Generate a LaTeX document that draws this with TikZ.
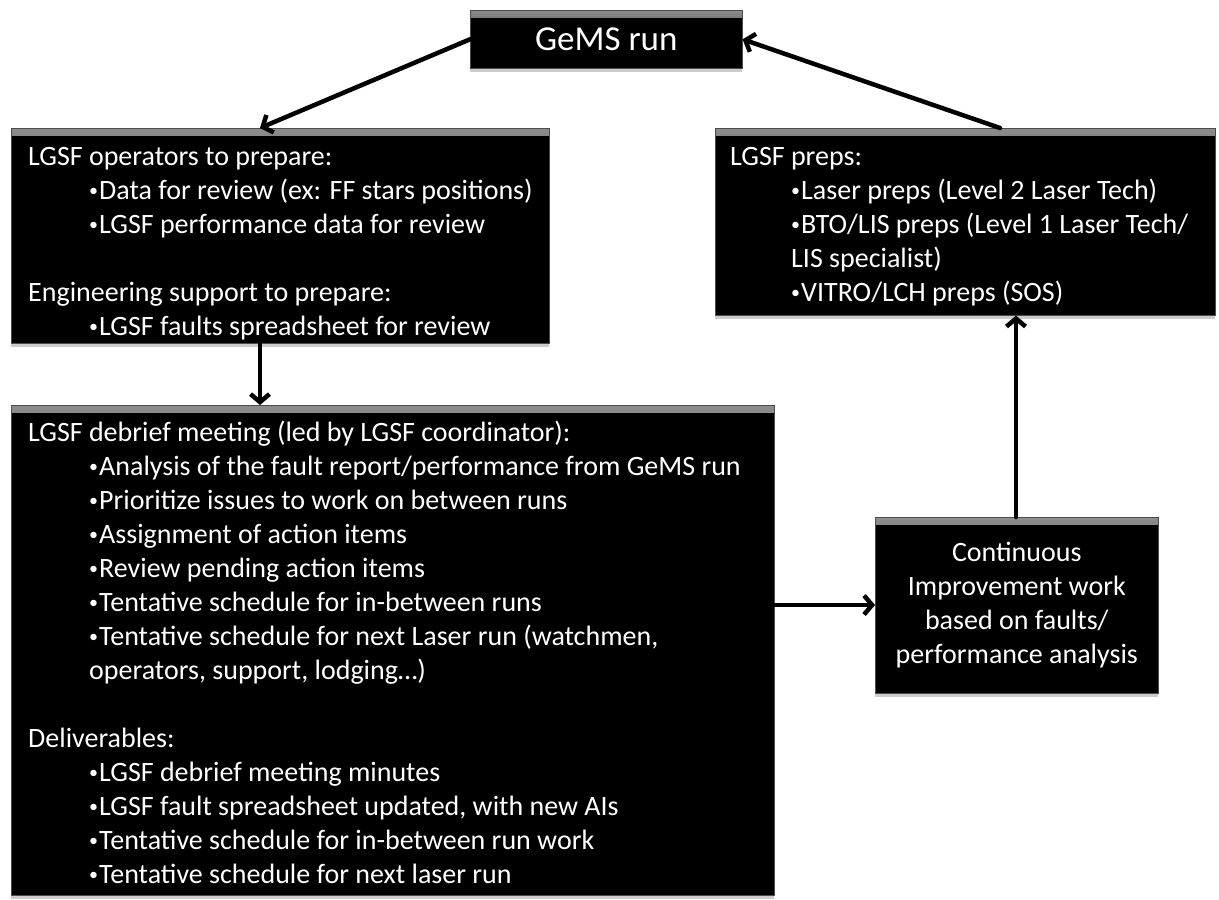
\documentclass[tikz,border=0pt]{standalone}
\usepackage{fontspec}
\setmainfont{Carlito}
\usetikzlibrary{arrows.meta,shadows}
\tikzset{
  box/.style={fill=black, draw=black!70, line width=0.6pt, inner sep=0pt, anchor=north west,
    drop shadow={opacity=0.4, shadow xshift=0pt, shadow yshift=-4pt},
    path picture={\shade[top color=black!45, bottom color=black]
      (path picture bounding box.north west) rectangle ([yshift=-7pt]path picture bounding box.north east);}},
  txt/.style={anchor=north west, text=white, inner sep=0pt, align=left,
    font=\fontsize{28}{34}\selectfont},
  conn/.style={line width=4.5pt, line cap=round,
    -{Straight Barb[length=8pt,width=19pt,line width=4.5pt]}}
}
\newcommand{\ind}{\hspace*{61pt}}
\newcommand{\bul}{\makebox[10pt][l]{\raisebox{3pt}{\fontsize{18}{20}\selectfont •}}}
\begin{document}
\begin{tikzpicture}[x=1pt,y=-1pt]
\useasboundingbox (0,0) rectangle (1219,900);
% GeMS run
\node[box, minimum width=272pt, minimum height=58pt] (gems) at (470,10) {};
\node[text=white, font=\fontsize{35}{40}\selectfont] (gemstext) at (gems.center) {GeMS run};
% top-left
\node[box, minimum width=538pt, minimum height=215pt] (tl) at (11,128) {};
\node[txt] (tltext) at (28,141) {\strut LGSF operators to prepare:\\
\ind\bul Data for review (ex: FF stars positions)\\
\ind\bul LGSF performance data for review\\
\strut\\
Engineering support to prepare:\\
\ind\bul LGSF faults spreadsheet for review};
% top-right
\node[box, minimum width=500pt, minimum height=187pt] (tr) at (715,128) {};
\node[txt] (trtext) at (730,141) {\strut LGSF preps:\\
\ind\bul Laser preps (Level 2 Laser Tech)\\
\ind\bul BTO/LIS preps (Level 1 Laser Tech/\\
\ind LIS specialist)\\
\ind\bul VITRO/LCH preps (SOS)};
% bottom-left
\node[box, minimum width=763pt, minimum height=490pt] (bl) at (11,405) {};
\node[txt] (bltext) at (28,417) {\strut LGSF debrief meeting (led by LGSF coordinator):\\
\ind\bul Analysis of the fault report/performance from GeMS run\\
\ind\bul Prioritize issues to work on between runs\\
\ind\bul Assignment of action items\\
\ind\bul Review pending action items\\
\ind\bul Tentative schedule for in-between runs\\
\ind\bul Tentative schedule for next Laser run (watchmen,\\
\ind operators, support, lodging…)\\
\strut\\
Deliverables:\\
\ind\bul LGSF debrief meeting minutes\\
\ind\bul LGSF fault spreadsheet updated, with new AIs\\
\ind\bul Tentative schedule for in-between run work\\
\ind\bul Tentative schedule for next laser run};
% continuous improvement
\node[box, minimum width=283pt, minimum height=176pt] (ci) at (875,517) {};
\node[text=white, inner sep=0pt, align=center, font=\fontsize{28}{34}\selectfont] (citext) at (ci.center) {Continuous\\Improvement work\\based on faults/\\performance analysis};
% connectors
\draw[conn] (gems.west) -- (tl.north -| 260,0);
\draw[conn] (tr.north -| 1000,0) -- (gems.east);
\draw[conn] (tl.south -| 260,0) -- (bl.north -| 260,0);
\draw[conn] (bl.east |- 0,605) -- (ci.west |- 0,605);
\draw[conn] (ci.north -| 1016,0) -- (tr.south -| 1016,0);
\end{tikzpicture}
\end{document}
